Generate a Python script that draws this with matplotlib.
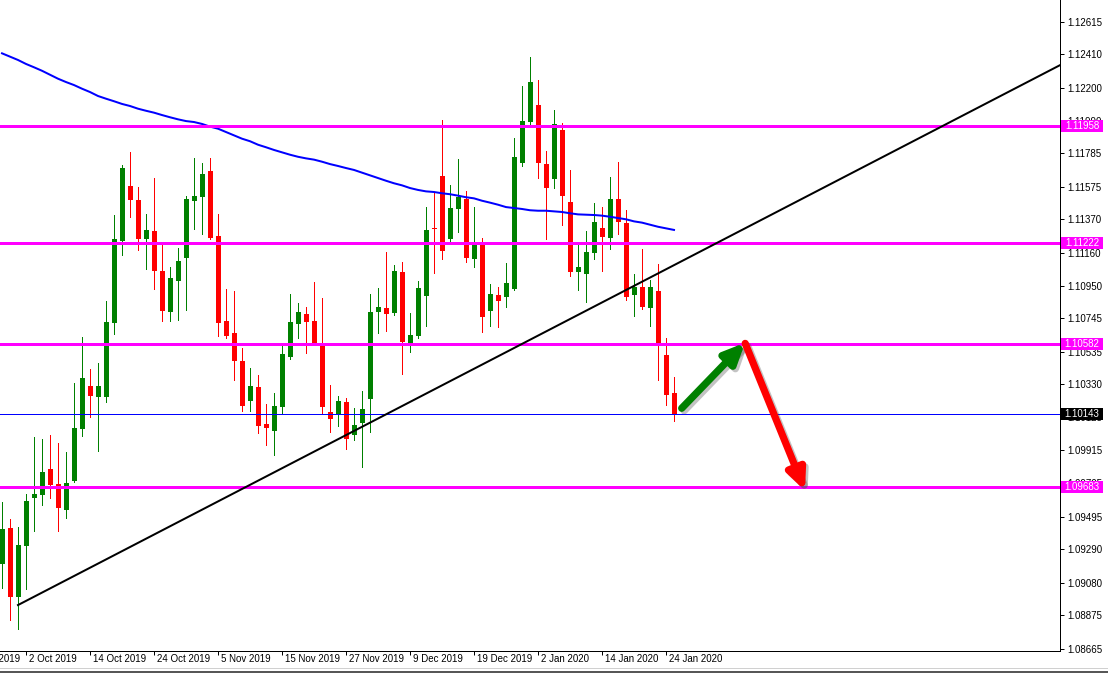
import matplotlib
matplotlib.use("Agg")
import matplotlib.pyplot as plt
from matplotlib.patches import Rectangle, FancyArrowPatch, ArrowStyle
from matplotlib.lines import Line2D
import matplotlib.transforms as mtransforms

# ---------------- data (EURUSD daily) ----------------
opens = [1.09198, 1.09425, 1.08990, 1.09311, 1.09614, 1.09632, 1.09796, 1.09702, 1.09538, 1.09721,
         1.10048, 1.10319, 1.10250, 1.10250, 1.10716, 1.11233, 1.11580, 1.11492, 1.11246, 1.11296,
         1.11044, 1.10786, 1.10981, 1.11126, 1.11485, 1.11511, 1.11674, 1.11265, 1.10729, 1.10653,
         1.10477, 1.10225, 1.10313, 1.10080, 1.10036, 1.10187, 1.10502, 1.10710, 1.10773, 1.10729,
         1.10578, 1.10156, 1.10143, 1.10219, 1.10011, 1.10086, 1.10237, 1.10786, 1.10811, 1.10779,
         1.11038, 1.10590, 1.10635, 1.10887, 1.11315, 1.11643, 1.11246, 1.11435, 1.11498, 1.11120,
         1.11208, 1.10792, 1.10893, 1.10880, 1.10931, 1.11725, 1.11983, 1.12090, 1.11718, 1.11624,
         1.11933, 1.11479, 1.11038, 1.11025, 1.11158, 1.11315, 1.11252, 1.11498, 1.11347, 1.10893,
         1.10943, 1.10811, 1.10918, 1.10515, 1.10275]
highs = [1.09588, 1.09481, 1.09431, 1.09639, 1.09998, 1.09985, 1.10011, 1.09960, 1.09903, 1.10338,
         1.10628, 1.10427, 1.10464, 1.10855, 1.11397, 1.11712, 1.11794, 1.11574, 1.11403, 1.11630,
         1.11214, 1.11069, 1.11189, 1.11517, 1.11756, 1.11725, 1.11756, 1.11403, 1.10931, 1.10918,
         1.10559, 1.10433, 1.10389, 1.10206, 1.10275, 1.10572, 1.10899, 1.10842, 1.10817, 1.10975,
         1.10874, 1.10326, 1.10256, 1.10244, 1.10181, 1.10288, 1.10899, 1.10937, 1.11164, 1.11082,
         1.11101, 1.10779, 1.10981, 1.11447, 1.11542, 1.11996, 1.11586, 1.11750, 1.11548, 1.11447,
         1.11252, 1.10962, 1.10943, 1.11095, 1.11882, 1.12210, 1.12393, 1.12248, 1.11800, 1.12059,
         1.11977, 1.11681, 1.11208, 1.11296, 1.11473, 1.11447, 1.11637, 1.11731, 1.11429, 1.11025,
         1.11183, 1.10987, 1.11088, 1.10622, 1.10376]
lows = [1.09046, 1.08845, 1.08788, 1.09040, 1.09406, 1.09569, 1.09614, 1.09406, 1.09488, 1.09714,
        1.10004, 1.10124, 1.09910, 1.10219, 1.10647, 1.11145, 1.11384, 1.11176, 1.11057, 1.10931,
        1.10729, 1.10729, 1.10735, 1.10798, 1.11309, 1.11277, 1.11246, 1.10635, 1.10625, 1.10357,
        1.10162, 1.10162, 1.10023, 1.09948, 1.09885, 1.10143, 1.10490, 1.10622, 1.10527, 1.10578,
        1.10143, 1.10030, 1.10067, 1.09922, 1.09979, 1.09809, 1.10030, 1.10653, 1.10666, 1.10770,
        1.10395, 1.10534, 1.10622, 1.10698, 1.11032, 1.11120, 1.11233, 1.11290, 1.11101, 1.11069,
        1.10660, 1.10698, 1.10691, 1.10817, 1.10924, 1.11706, 1.11971, 1.11630, 1.11246, 1.11567,
        1.11334, 1.11013, 1.10924, 1.10849, 1.11120, 1.11044, 1.11183, 1.11277, 1.10861, 1.10761,
        1.10805, 1.10698, 1.10357, 1.10200, 1.10099]
closes = [1.09418, 1.08990, 1.09317, 1.09595, 1.09639, 1.09777, 1.09696, 1.09551, 1.09708, 1.10055,
          1.10370, 1.10256, 1.10319, 1.10723, 1.11246, 1.11693, 1.11492, 1.11246, 1.11303, 1.11044,
          1.10792, 1.11000, 1.11107, 1.11498, 1.11517, 1.11655, 1.11252, 1.10716, 1.10635, 1.10477,
          1.10193, 1.10319, 1.10067, 1.10055, 1.10193, 1.10521, 1.10723, 1.10786, 1.10723, 1.10590,
          1.10187, 1.10111, 1.10225, 1.09985, 1.10074, 1.10174, 1.10786, 1.10817, 1.10773, 1.11044,
          1.10597, 1.10641, 1.10937, 1.11303, 1.11309, 1.11170, 1.11441, 1.11511, 1.11126, 1.11208,
          1.10754, 1.10899, 1.10855, 1.10969, 1.11763, 1.11989, 1.12235, 1.11725, 1.11567, 1.11971,
          1.11517, 1.11038, 1.11069, 1.11164, 1.11353, 1.11258, 1.11498, 1.11353, 1.10880, 1.10943,
          1.10817, 1.10943, 1.10590, 1.10263, 1.10143]
ma200 = [1.12416, 1.12395, 1.12374, 1.12349, 1.12328, 1.12306, 1.12281, 1.12256, 1.12235, 1.12216,
         1.12193, 1.12172, 1.12147, 1.12130, 1.12114, 1.12097, 1.12084, 1.12067, 1.12054, 1.12042,
         1.12027, 1.12013, 1.12000, 1.11989, 1.11983, 1.11971, 1.11954, 1.11941, 1.11920, 1.11899,
         1.11878, 1.11862, 1.11840, 1.11824, 1.11807, 1.11792, 1.11777, 1.11764, 1.11754, 1.11746,
         1.11733, 1.11718, 1.11706, 1.11693, 1.11681, 1.11664, 1.11647, 1.11630, 1.11613, 1.11597,
         1.11584, 1.11567, 1.11555, 1.11546, 1.11542, 1.11534, 1.11528, 1.11519, 1.11509, 1.11502,
         1.11487, 1.11475, 1.11462, 1.11447, 1.11441, 1.11435, 1.11427, 1.11424, 1.11424, 1.11420,
         1.11416, 1.11408, 1.11401, 1.11399, 1.11397, 1.11393, 1.11386, 1.11378, 1.11370, 1.11357,
         1.11349, 1.11336, 1.11323, 1.11313, 1.11303]

date_label_bars = [-5, 3, 11, 19, 27, 35, 43, 51, 59, 67, 75, 83]
date_labels = ["20 Sep 2019", "2 Oct 2019", "14 Oct 2019", "24 Oct 2019", "5 Nov 2019",
               "15 Nov 2019", "27 Nov 2019", "9 Dec 2019", "19 Dec 2019", "2 Jan 2020",
               "14 Jan 2020", "24 Jan 2020"]
price_ticks = [1.12615, 1.12410, 1.12200, 1.11990, 1.11785, 1.11575, 1.11370, 1.11160,
               1.10950, 1.10745, 1.10535, 1.10330, 1.10125, 1.09915, 1.09705, 1.09495,
               1.09290, 1.09080, 1.08875, 1.08665]
level_prices = [1.11958, 1.11222, 1.10582, 1.09683]
current_price = 1.10143
trend_bars = [2, 84]
trend_prices = [1.08939, 1.11081]
green_arrow = [(84.96, 1.10179), (92.875, 1.10592)]
red_arrow = [(92.9, 1.10588), (100.375, 1.09660)]

# ---------------- figure ----------------
W, H = 1108, 677
DPI = 100
plt.rcParams['font.family'] = ['Liberation Sans', 'DejaVu Sans']
fig = plt.figure(figsize=(W / DPI, H / DPI), dpi=DPI)
fig.patch.set_facecolor('white')
ax_left, ax_right_px, ax_bottom_px = 0, 1060, 651
ax = fig.add_axes([0, (H - ax_bottom_px) / H, ax_right_px / W, ax_bottom_px / H])
ax.set_facecolor('white')

ppx = 0.00006302          # price per pixel
ytop = 1.12752
ax.set_ylim(ytop - ax_bottom_px * ppx, ytop)
ax.set_xlim(-0.25, -0.25 + ax_right_px / 8.0)

GREEN = '#008000'
RED = '#FF0000'
px = 72.0 / DPI  # one pixel in points

# candles
for i, (o, h, l, c) in enumerate(zip(opens, highs, lows, closes)):
    col = GREEN if c >= o else RED
    ax.vlines(i, l, h, color=col, lw=px, zorder=2, antialiased=False)
    bot = min(o, c)
    hgt = max(abs(c - o), ppx)
    ax.add_patch(Rectangle((i - 0.3125, bot), 0.625, hgt, facecolor=col,
                           edgecolor='none', zorder=2.2, antialiased=False))

# moving average
ax.plot(range(len(ma200)), ma200, color='#0000FF', lw=2 * px, zorder=3)

# horizontal levels
for p in level_prices:
    ax.axhline(p, color='#FF00FF', lw=3 * px, zorder=3.5)
ax.axhline(current_price, color='#0000FF', lw=px, zorder=3.4)

# trend line (ray to the right)
slope = (trend_prices[1] - trend_prices[0]) / (trend_bars[1] - trend_bars[0])
x_end = 140
ax.plot([trend_bars[0], x_end], [trend_prices[0], trend_prices[0] + slope * (x_end - trend_bars[0])],
        color='black', lw=2 * px, zorder=3.6)

# arrows with shadow
def draw_arrow(pts, color):
    style = ArrowStyle('-|>', head_length=12, head_width=5.5)
    shadow_tr = ax.transData + mtransforms.ScaledTranslation(2.5 / DPI, -2.5 / DPI, fig.dpi_scale_trans)
    sh = FancyArrowPatch(pts[0], pts[1], arrowstyle=style, mutation_scale=1,
                         lw=5.2, color='#555555', alpha=0.35, capstyle='round',
                         joinstyle='round', shrinkA=0, shrinkB=0, transform=shadow_tr, zorder=4)
    ax.add_patch(sh)
    ar = FancyArrowPatch(pts[0], pts[1], arrowstyle=style, mutation_scale=1,
                         lw=5.2, color=color, capstyle='round', joinstyle='round',
                         shrinkA=0, shrinkB=0, zorder=4.1)
    ax.add_patch(ar)

draw_arrow(green_arrow, GREEN)
draw_arrow(red_arrow, RED)

# axes styling
for s in ['left', 'top']:
    ax.spines[s].set_visible(False)
for s in ['right', 'bottom']:
    ax.spines[s].set_color('black')
    ax.spines[s].set_linewidth(px)

ax.yaxis.tick_right()
ax.set_yticks(price_ticks)
ax.set_yticklabels([f"{v:.5f}" for v in price_ticks])
ax.tick_params(axis='y', direction='out', length=3, width=px, labelsize=7, pad=2, colors='black')

vis_bars = [b for b in date_label_bars if b >= 0]
ax.set_xticks(vis_bars)
ax.set_xticklabels([''] * len(vis_bars))
ax.tick_params(axis='x', direction='out', length=3, width=px)

xtr = mtransforms.blended_transform_factory(ax.transData, ax.transAxes)
for b, lab in zip(date_label_bars, date_labels):
    ax.text(b + 0.375, -7.5 / ax_bottom_px, lab, transform=xtr, ha='left', va='center',
            fontsize=7, color='black', clip_on=False)

# price labels on the right axis
ytr = mtransforms.blended_transform_factory(ax.transAxes, ax.transData)
box_w = 42 / ax_right_px
box_h = 12 * ppx
for p, fc in [(p, '#FF00FF') for p in level_prices] + [(current_price, 'black')]:
    ax.add_patch(Rectangle((1.0 + 1 / ax_right_px, p - box_h / 2), box_w, box_h,
                           transform=ytr, facecolor=fc, edgecolor='none', clip_on=False, zorder=6))
    ax.text(1.0 + 22 / ax_right_px, p, f"{p:.5f}", transform=ytr, ha='center', va='center',
            fontsize=7, color='white', clip_on=False, zorder=7)

# window bottom border
fig.add_artist(Line2D([0, 1], [1 - 668 / H, 1 - 668 / H], transform=fig.transFigure,
                      color='#d0d0d0', lw=px))
fig.add_artist(Line2D([0, 1], [1 - 672 / H, 1 - 672 / H], transform=fig.transFigure,
                      color='#202020', lw=1.5 * px))

fig.savefig('out.png', dpi=DPI, facecolor='white')
